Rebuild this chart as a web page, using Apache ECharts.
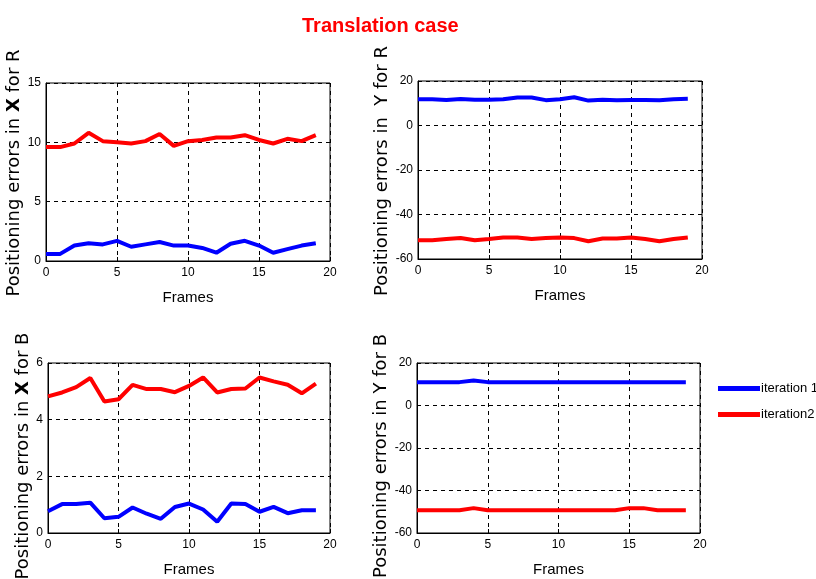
<!DOCTYPE html>
<html><head><meta charset="utf-8">
<script src="https://cdn.jsdelivr.net/npm/echarts@6/dist/echarts.min.js"></script>
<style>html,body{margin:0;padding:0;background:#fff}#c{width:816px;height:579px}</style>
</head><body><div id="c"></div>
<script>
const frames = [0,1,2,3,4,5,6,7,8,9,10,11,12,13,14,15,16,17,18,19];
const xTicks = [0,5,10,15,20];
const seriesNames = ['iteration 1','iteration2'];
// X for R
const xR_it1 = [0.6,0.6,1.3,1.5,1.4,1.7,1.2,1.4,1.6,1.3,1.3,1.1,0.7,1.45,1.7,1.3,0.7,1.0,1.3,1.5];
const xR_it2 = [9.6,9.6,9.9,10.8,10.1,10.0,9.9,10.1,10.7,9.7,10.1,10.2,10.4,10.4,10.6,10.2,9.9,10.3,10.1,10.6];
// Y for R
const yR_it1 = [11.8,11.8,11.5,11.9,11.6,11.6,11.8,12.6,12.6,11.4,11.8,12.7,11.2,11.6,11.3,11.5,11.5,11.3,11.8,12.0];
const yR_it2 = [-51.6,-51.6,-51,-50.6,-51.6,-51,-50.3,-50.3,-51,-50.6,-50.3,-50.6,-52,-50.8,-50.8,-50.3,-51,-52,-51,-50.3];
// X for B
const xB_it1 = [0.77,1.02,1.02,1.07,0.52,0.57,0.9,0.68,0.5,0.92,1.04,0.83,0.4,1.04,1.02,0.75,0.92,0.7,0.8,0.8];
const xB_it2 = [4.82,4.96,5.15,5.47,4.64,4.72,5.23,5.08,5.08,4.97,5.19,5.49,4.96,5.08,5.1,5.49,5.35,5.23,4.93,5.27];
// Y for B
const yB_it1 = [11,11,11,11,11.8,11,11,11,11,11,11,11,11,11,11,11,11,11,11,11];
const yB_it2 = [-49.3,-49.3,-49.3,-49.3,-48.3,-49.3,-49.3,-49.3,-49.3,-49.3,-49.3,-49.3,-49.3,-49.3,-49.3,-48.3,-48.3,-49.3,-49.3,-49.3];

const yLabels = [
  ['Positioning errors in ', 'X', ' for R'],
  ['Positioning errors in  ', 'Y', ' for R'],
  ['Positioning errors in ', 'X', ' for B'],
  ['Positioning errors in ', 'Y', ' for B']
];
const yRanges = [[0,15,5],[-60,20,20],[0,6,2],[-60,20,20]];
const boldX = [true,false,true,false];
const data = [[xR_it1,xR_it2],[yR_it1,yR_it2],[xB_it1,xB_it2],[yB_it1,yB_it2]];
const grids = [
  {left:46, top:83, width:284, height:178},
  {left:418, top:81, width:284, height:178},
  {left:48, top:363, width:282, height:170},
  {left:417, top:363, width:283, height:170}
];
const nameGaps = [18,24,16,23];
const namePads = [[0,2,0,0],[0,2,0,0],[0,16,0,0],[0,16,0,0]];
const colors = ['#0000ff','#ff0000'];
const font = '"Liberation Sans", Arial, sans-serif';

const option = {
  backgroundColor:'#fff',
  animation:false,
  title:{text:'Translation case', left:297, top:11, textStyle:{color:'#ff0000', fontSize:20, fontWeight:'bold', fontFamily:font}},
  legend:{orient:'vertical', left:713, top:377, itemWidth:42, itemHeight:5, itemGap:13, icon:'rect',
    data:seriesNames, textStyle:{fontSize:13, fontFamily:font, color:'#000', padding:[0,0,0,-4]}},
  grid: grids.map(g=>Object.assign({show:true, borderColor:'#000', borderWidth:1, backgroundColor:'#fff', containLabel:false, outerBoundsMode:'none'}, g)),
  xAxis: grids.map((g,i)=>({type:'value', gridIndex:i, min:0, max:20, interval:5,
    name:'Frames', nameLocation:'middle', nameGap:29,
    nameTextStyle:{fontSize:15, fontFamily:font, color:'#000'},
    axisLine:{show:true, onZero:false, lineStyle:{color:'#000'}},
    axisTick:{show:true, inside:true, length:4, lineStyle:{color:'#000'}},
    axisLabel:{color:'#000', fontSize:12, fontFamily:font, margin:6},
    splitLine:{show:true, lineStyle:{color:'#000', type:[4,4], width:1}}
  })),
  yAxis: grids.map((g,i)=>({type:'value', gridIndex:i, min:yRanges[i][0], max:yRanges[i][1], interval:yRanges[i][2],
    name:'{n|'+yLabels[i][0]+'}{'+(boldX[i]?'b':'n')+'|'+yLabels[i][1]+'}{n|'+yLabels[i][2]+'}',
    nameLocation:'middle', nameGap:nameGaps[i], nameRotate:90,
    nameTextStyle:{fontSize:18, fontFamily:'DejaVu Sans', color:'#000', padding:namePads[i],
      rich:{n:{fontSize:18, fontFamily:'DejaVu Sans', color:'#000'}, b:{fontSize:18, fontFamily:'DejaVu Sans', fontWeight:'bold', color:'#000'}}},
    axisLine:{show:true, onZero:false, lineStyle:{color:'#000'}},
    axisTick:{show:true, inside:true, length:4, lineStyle:{color:'#000'}},
    axisLabel:{color:'#000', fontSize:12, fontFamily:font, margin:5},
    splitLine:{show:true, lineStyle:{color:'#000', type:[4,4], width:1}}
  })),
  series: []
};
data.forEach((pair,i)=>{
  pair.forEach((arr,k)=>{
    option.series.push({type:'line', name:seriesNames[k], xAxisIndex:i, yAxisIndex:i,
      data: frames.map((f,j)=>[f,arr[j]]), showSymbol:false, symbol:'none',
      lineStyle:{color:colors[k], width:4}, itemStyle:{color:colors[k]}, z:5});
  });
});
echarts.init(document.getElementById('c')).setOption(option);
</script></body></html>
